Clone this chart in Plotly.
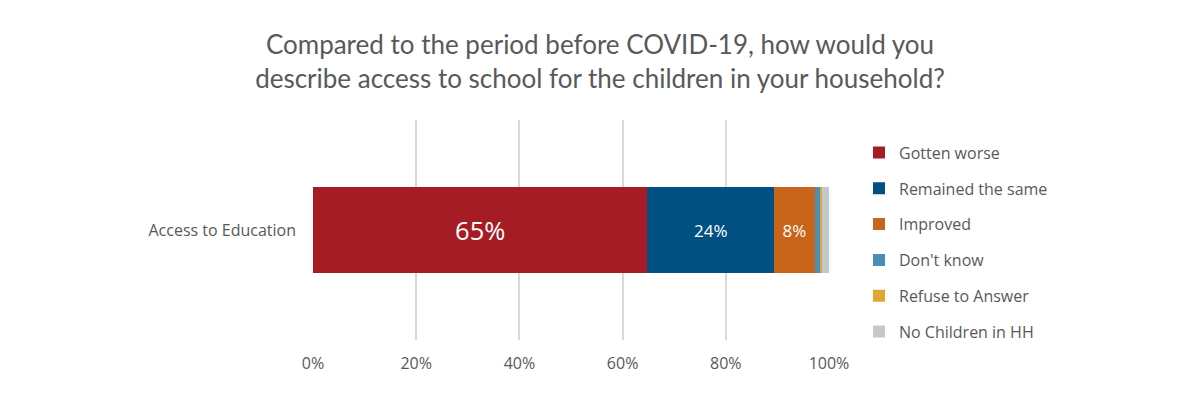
import plotly.graph_objects as go

categories = ["Access to Education"]
series_names = ["Gotten worse", "Remained the same", "Improved", "Don't know", "Refuse to Answer", "No Children in HH"]
series_values = [64.8, 24.6, 7.8, 1.0, 0.4, 1.4]
series_labels = ["65%", "24%", "8%", "", "", ""]
label_sizes = [25.5, 17, 17, 12, 12, 12]
colors = ["#A51C24", "#005182", "#C8651B", "#4A8EB7", "#E0A734", "#C3C8CC"]
tick_vals = [0, 20, 40, 60, 80, 100]
tick_text = ["0%", "20%", "40%", "60%", "80%", "100%"]

TFONT = "Lato"
FONT = "Open Sans"
GREY = "#595959"

fig = go.Figure()
for name, val, lab, sz, col in zip(series_names, series_values, series_labels, label_sizes, colors):
    fig.add_trace(go.Bar(
        y=categories, x=[val], name=name, orientation="h",
        marker=dict(color=col, line=dict(width=0)),
        text=[lab], textposition="inside", insidetextanchor="middle",
        textangle=0, constraintext="none",
        textfont=dict(family=FONT, size=sz, color="white"),
        legendgroup=name, hoverinfo="skip",
    ))

fig.update_layout(
    width=1200, height=394,
    barmode="stack", bargap=0.61,
    paper_bgcolor="white", plot_bgcolor="white",
    margin=dict(l=305, r=379, t=112, b=62, autoexpand=False),
    title=dict(
        text="Compared to the period before COVID-19, how would you<br>describe access to school for the children in your household?",
        x=592 / 1200, xanchor="center", y=0.884, yanchor="top",
        font=dict(family=TFONT, size=26, color=GREY),
    ),
    xaxis=dict(
        range=[0, 100], tickvals=tick_vals, ticktext=tick_text,
        showgrid=True, gridcolor="#D9D9D9", gridwidth=2,
        zeroline=False, showline=False, ticks="",
        tickfont=dict(family=FONT, size=16, color=GREY),
        ticklabelstandoff=12, fixedrange=True, automargin=False,
    ),
    yaxis=dict(
        showgrid=False, zeroline=False, showline=False, ticks="",
        tickfont=dict(family=FONT, size=16, color=GREY),
        ticklabelstandoff=16, automargin=False,
    ),
    legend=dict(
        traceorder="grouped", tracegroupgap=12,
        x=851 / 1200, xref="container", xanchor="left",
        y=0.445, yanchor="middle",
        font=dict(family=FONT, size=16, color=GREY),
        itemwidth=30,
    ),
    showlegend=True,
)

fig.write_html("out.html")
